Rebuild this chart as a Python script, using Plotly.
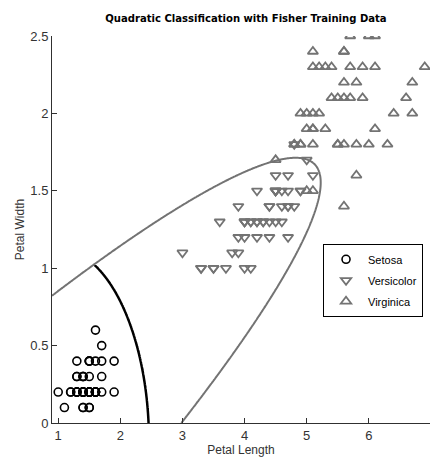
import numpy as np
import plotly.graph_objects as go

# Fisher iris data: petal length / petal width
setosa_len = [1.4,1.4,1.3,1.5,1.4,1.7,1.4,1.5,1.4,1.5,1.5,1.6,1.4,1.1,1.2,1.5,1.3,1.4,1.7,1.5,
              1.7,1.5,1.0,1.7,1.9,1.6,1.6,1.5,1.4,1.6,1.6,1.5,1.5,1.4,1.5,1.2,1.3,1.4,1.3,1.5,
              1.3,1.3,1.3,1.6,1.9,1.4,1.6,1.4,1.5,1.4]
setosa_wid = [0.2,0.2,0.2,0.2,0.2,0.4,0.3,0.2,0.2,0.1,0.2,0.2,0.1,0.1,0.2,0.4,0.4,0.3,0.3,0.3,
              0.2,0.4,0.2,0.5,0.2,0.2,0.4,0.2,0.2,0.2,0.2,0.4,0.1,0.2,0.2,0.2,0.2,0.1,0.2,0.2,
              0.3,0.3,0.2,0.6,0.4,0.3,0.2,0.2,0.2,0.2]
versicolor_len = [4.7,4.5,4.9,4.0,4.6,4.5,4.7,3.3,4.6,3.9,3.5,4.2,4.0,4.7,3.6,4.4,4.5,4.1,4.5,3.9,
                  4.8,4.0,4.9,4.7,4.3,4.4,4.8,5.0,4.5,3.5,3.8,3.7,3.9,5.1,4.5,4.5,4.7,4.4,4.1,4.0,
                  4.4,4.6,4.0,3.3,4.2,4.2,4.2,4.3,3.0,4.1]
versicolor_wid = [1.4,1.5,1.5,1.3,1.5,1.3,1.6,1.0,1.3,1.4,1.0,1.5,1.0,1.4,1.3,1.4,1.5,1.0,1.5,1.1,
                  1.8,1.3,1.5,1.2,1.3,1.4,1.4,1.7,1.5,1.0,1.1,1.0,1.2,1.6,1.5,1.6,1.5,1.3,1.3,1.3,
                  1.2,1.4,1.2,1.0,1.3,1.2,1.3,1.3,1.1,1.3]
virginica_len = [6.0,5.1,5.9,5.6,5.8,6.6,4.5,6.3,5.8,6.1,5.1,5.3,5.5,5.0,5.1,5.3,5.5,6.7,6.9,5.0,
                 5.7,4.9,6.7,4.9,5.7,6.0,4.8,4.9,5.6,5.8,6.1,6.4,5.6,5.1,5.6,6.1,5.6,5.5,4.8,5.4,
                 5.6,5.1,5.1,5.9,5.7,5.2,5.0,5.2,5.4,5.1]
virginica_wid = [2.5,1.9,2.1,1.8,2.2,2.1,1.7,1.8,1.8,2.5,2.0,1.9,2.1,2.0,2.4,2.3,1.8,2.2,2.3,1.5,
                 2.3,2.0,2.0,1.8,2.1,1.8,1.8,1.8,2.1,1.6,1.9,2.0,2.2,1.5,1.4,2.3,2.4,1.8,1.8,2.1,
                 2.4,2.3,1.9,2.3,2.5,2.3,1.9,2.0,2.3,1.8]

x_range = [0.9, 6.985]
y_range = [0, 2.5]

# Quadratic discriminant (equal priors, per-class covariance)
def disc_params(xs, ys):
    X = np.column_stack([xs, ys])
    mu = X.mean(axis=0)
    S = np.cov(X, rowvar=False)
    return mu, np.linalg.inv(S), np.log(np.linalg.det(S))

def score(params, gx, gy):
    mu, Si, ld = params
    dx = gx - mu[0]
    dy = gy - mu[1]
    q = Si[0, 0] * dx * dx + 2 * Si[0, 1] * dx * dy + Si[1, 1] * dy * dy
    return -0.5 * ld - 0.5 * q

p1 = disc_params(setosa_len, setosa_wid)
p2 = disc_params(versicolor_len, versicolor_wid)
p3 = disc_params(virginica_len, virginica_wid)

gx23 = np.linspace(0.9, 7.1, 500)
gy23 = np.linspace(0, 2.5, 400)
GX, GY = np.meshgrid(gx23, gy23)
f23 = score(p2, GX, GY) - score(p3, GX, GY)

gx12 = np.linspace(0.9, 7.1, 500)
gy12 = np.linspace(0, 1.02, 300)
GX2, GY2 = np.meshgrid(gx12, gy12)
f12 = score(p1, GX2, GY2) - score(p2, GX2, GY2)

gray = "#737373"
fig = go.Figure()

fig.add_trace(go.Contour(x=gx23, y=gy23, z=f23, showscale=False, showlegend=False,
                         contours=dict(start=0, end=0, size=1, coloring="lines"),
                         colorscale=[[0, gray], [1, gray]], line=dict(width=2),
                         hoverinfo="skip"))
fig.add_trace(go.Contour(x=gx12, y=gy12, z=f12, showscale=False, showlegend=False,
                         contours=dict(start=0, end=0, size=1, coloring="lines"),
                         colorscale=[[0, "black"], [1, "black"]], line=dict(width=2.5),
                         hoverinfo="skip"))

fig.add_trace(go.Scatter(x=setosa_len, y=setosa_wid, mode="markers", name="Setosa",
                         legendgroup="a",
                         marker=dict(symbol="circle-open", size=8, color="black",
                                     line=dict(width=1.6, color="black"))))
fig.add_trace(go.Scatter(x=versicolor_len, y=versicolor_wid, mode="markers", name="Versicolor",
                         legendgroup="b",
                         marker=dict(symbol="triangle-down-open", size=9, color=gray,
                                     line=dict(width=1.8, color=gray))))
fig.add_trace(go.Scatter(x=virginica_len, y=virginica_wid, mode="markers", name="Virginica",
                         legendgroup="c",
                         marker=dict(symbol="triangle-up-open", size=9, color=gray,
                                     line=dict(width=1.8, color=gray))))

axis_common = dict(showgrid=False, zeroline=False, showline=True, linecolor="#303030",
                   linewidth=1, ticks="inside", ticklen=5, tickcolor="#303030",
                   automargin=False,
                   tickfont=dict(family="Liberation Sans, Arial", size=13, color="#333333"))

fig.update_layout(
    width=430, height=462,
    margin=dict(l=52, r=0, t=36, b=39),
    plot_bgcolor="white", paper_bgcolor="white",
    title=dict(text="<b>Quadratic Classification with Fisher Training Data</b>",
               font=dict(family="Liberation Sans Narrow, DejaVu Sans Condensed, Arial Narrow",
                         size=11.2, color="black"),
               x=0.572, xref="container", xanchor="center",
               y=1 - 18 / 462, yref="container", yanchor="middle"),
    xaxis=dict(range=x_range, tickvals=[1, 2, 3, 4, 5, 6],
               title=dict(text="Petal Length", standoff=2,
                          font=dict(family="Liberation Sans, Arial", size=12, color="#333333")),
               **axis_common),
    yaxis=dict(range=y_range, tickvals=[0, 0.5, 1, 1.5, 2, 2.5],
               ticktext=["0", "0.5", "1", "1.5", "2", "2.5"],
               title=dict(text="Petal Width", standoff=3,
                          font=dict(family="Liberation Sans, Arial", size=12, color="#333333")),
               **axis_common),
    legend=dict(x=0.717, y=0.463, xanchor="left", yanchor="top",
                bordercolor="black", borderwidth=1, bgcolor="white",
                font=dict(family="Liberation Sans, Arial", size=11, color="black"),
                itemwidth=34, tracegroupgap=2),
)

fig.write_html("out.html", post_script="document.body.style.margin='0';",
               config={"displayModeBar": False})
